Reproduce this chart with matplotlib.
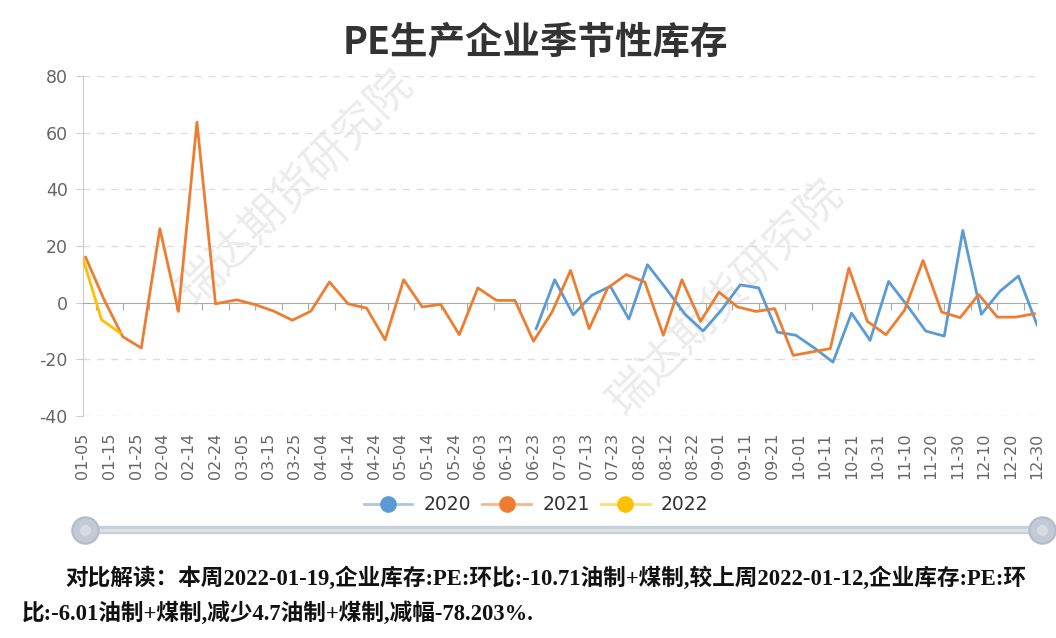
import matplotlib
matplotlib.use("Agg")
import matplotlib.pyplot as plt
from matplotlib.lines import Line2D
import pandas as pd

plt.rcParams['font.family'] = ['DejaVu Sans', 'Noto Sans CJK SC']
plt.rcParams['axes.unicode_minus'] = False

# x 轴标签（每 10 天一个）
tick_labels = ['01-05', '01-15', '01-25', '02-04', '02-14', '02-24', '03-05', '03-15', '03-25',
               '04-04', '04-14', '04-24', '05-04', '05-14', '05-24', '06-03', '06-13', '06-23',
               '07-03', '07-13', '07-23', '08-02', '08-12', '08-22', '09-01', '09-11', '09-21',
               '10-01', '10-11', '10-21', '10-31', '11-10', '11-20', '11-30', '12-10', '12-20',
               '12-30']

dates_2020 = ['06-24', '07-01', '07-08', '07-15', '07-22', '07-29', '08-05', '08-12', '08-19',
              '08-26', '09-02', '09-09', '09-16', '09-23', '09-30', '10-07', '10-14', '10-21',
              '10-28', '11-04', '11-11', '11-18', '11-25', '12-02', '12-09', '12-16', '12-23',
              '12-30']
vals_2020 = [-9.2, 8.1, -4.3, 2.6, 5.8, -5.8, 13.4, 5.0, -3.9,
             -10.0, -2.5, 6.3, 5.2, -10.4, -11.5, -16.0, -21.0, -3.7,
             -13.3, 7.5, -1.0, -10.0, -11.8, 25.5, -4.1, 4.0, 9.4,
             -7.8]

dates_2021 = ['01-06', '01-13', '01-20', '01-27', '02-03', '02-10', '02-17', '02-24', '03-03',
              '03-10', '03-17', '03-24', '03-31', '04-07', '04-14', '04-21', '04-28', '05-05',
              '05-12', '05-19', '05-26', '06-02', '06-09', '06-16', '06-23', '06-30', '07-07',
              '07-14', '07-21', '07-28', '08-04', '08-11', '08-18', '08-25', '09-01', '09-08',
              '09-15', '09-22', '09-29', '10-06', '10-13', '10-20', '10-27', '11-03', '11-10',
              '11-17', '11-24', '12-01', '12-08', '12-15', '12-22', '12-29']
vals_2021 = [16.0, 1.0, -12.0, -16.0, 26.1, -3.1, 63.7, -0.4, 1.0,
             -0.7, -3.0, -6.2, -3.0, 7.3, -0.4, -1.9, -13.1, 8.1,
             -1.5, -0.6, -11.3, 5.2, 0.8, 0.8, -13.6, -3.3, 11.4,
             -9.2, 5.2, 9.9, 7.3, -11.5, 8.1, -6.6, 3.7, -1.5,
             -3.1, -2.1, -18.6, -17.4, -16.2, 12.2, -6.6, -11.3, -2.7,
             14.9, -3.3, -5.3, 2.9, -5.1, -5.1, -3.9]

dates_2022 = ['01-05', '01-12', '01-19']
vals_2022 = [15.5, -6.01, -10.71]

series = [('2020', dates_2020, vals_2020, '#5b9bd5'),
          ('2021', dates_2021, vals_2021, '#ed7d31'),
          ('2022', dates_2022, vals_2022, '#ffc000')]

note_1 = '对比解读：本周2022-01-19,企业库存:PE:环比:-10.71油制+煤制,较上周2022-01-12,企业库存:PE:环'
note_2 = '比:-6.01油制+煤制,减少4.7油制+煤制,减幅-78.203%.'

base = pd.Timestamp('2020-01-05')


def day_idx(mmdd):
    # 统一映射到 2020 年（闰年）的日序
    return (pd.Timestamp('2020-' + mmdd) - base).days


fig = plt.figure(figsize=(10.56, 6.38), dpi=100)

# 整张图的像素坐标层，用于水印、滑块和底部文字
over = fig.add_axes([0, 0, 1, 1], zorder=0)
over.set_xlim(0, 1056)
over.set_ylim(638, 0)
over.axis('off')

ax = fig.add_axes([83 / 1056, 1 - 416 / 638, (1037 - 83) / 1056, (416 - 76) / 638], zorder=1)
ax.patch.set_alpha(0)

for name, d, v, c in series:
    ax.plot([day_idx(s) for s in d], v, color=c, lw=2.0, solid_joinstyle='round', zorder=3)

ax.set_xlim(0, 360)
ax.set_ylim(-40, 80)
ax.set_yticks(range(-40, 81, 20))
for y in range(-40, 81, 20):
    if y != 0:
        ax.axhline(y, color='#dddddd', lw=1, ls=(0, (5, 5)), zorder=1)

for s in ['top', 'right']:
    ax.spines[s].set_visible(False)
ax.spines['left'].set_color('#cccccc')
ax.spines['bottom'].set_position(('data', 0))
ax.spines['bottom'].set_color('#aaaaaa')
ax.set_xticks(range(5, 360, 10))
ax.set_xticklabels([])
ax.tick_params(axis='x', length=5, color='#aaaaaa')
ax.tick_params(axis='y', length=5, color='#cccccc', labelcolor='#666666', labelsize=12.5, pad=6)

sec = ax.secondary_xaxis(0.0)
sec.set_xticks([day_idx(t) for t in tick_labels], labels=tick_labels, rotation=90)
sec.tick_params(length=0, pad=12, labelcolor='#666666', labelsize=11.5)
sec.spines['bottom'].set_visible(False)

fig.text(535 / 1056, 1 - 42 / 638, 'PE生产企业季节性库存', ha='center', va='center', fontsize=27,
         fontweight='bold', color='#333333', family=['Noto Sans CJK SC', 'DejaVu Sans'])

# 水印
for cx, cy in [(295, 188), (725, 298)]:
    over.text(cx, cy, '瑞达期货研究院', rotation=45, ha='center', va='center', fontsize=32,
              color='#ececec', family=['Noto Sans CJK SC'], zorder=0)

# 图例
handles = []
for name, d, v, c in series:
    handles.append((Line2D([], [], color=c, lw=2, alpha=0.55),
                    Line2D([], [], color=c, marker='o', ms=11, lw=0)))
fig.legend(handles, [s[0] for s in series], loc='center', bbox_to_anchor=(536 / 1056, 1 - 505 / 638),
           ncol=3, frameon=False, fontsize=13.5, handlelength=2.6, columnspacing=0.6,
           handletextpad=0.6, labelcolor='#333333')

# 底部数据缩放滑块
over.plot([85, 1042], [530, 530], color='#c9d0da', lw=6, solid_capstyle='round', zorder=1)
over.plot([85, 1042], [530, 530], color='#dde2e8', lw=2, zorder=1)
over.plot([85, 1042], [530, 530], 'o', ms=19, color='#c3cad5', mec='#b3bcc8', mew=1.5, zorder=2)
over.plot([85, 1042], [530, 530], 'o', ms=9, color='#d6dbe2', mec='#c3cad5', zorder=3)

note_font = ['Liberation Serif', 'Noto Sans CJK SC']
over.text(65, 578, note_1, ha='left', va='center', fontsize=16.3, fontweight='bold',
          color='#111111', family=note_font)
over.text(22, 613, note_2, ha='left', va='center', fontsize=16.3, fontweight='bold',
          color='#111111', family=note_font)

fig.savefig('out.png', dpi=100)
